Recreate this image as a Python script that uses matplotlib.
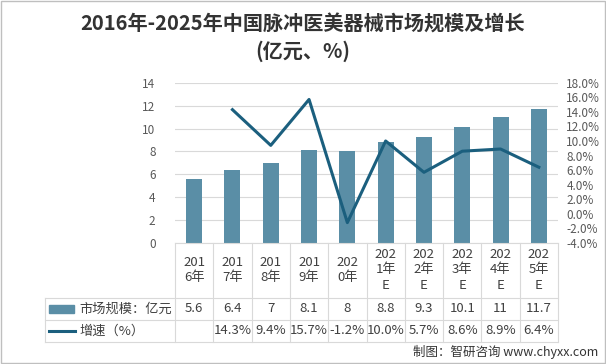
import matplotlib
matplotlib.use("Agg")
import matplotlib.pyplot as plt
from matplotlib.lines import Line2D
from matplotlib.patches import Rectangle
from matplotlib.ticker import FuncFormatter

plt.rcParams['font.family'] = ['Noto Sans CJK SC', 'DejaVu Sans']

years = ['201\n6年', '201\n7年', '201\n8年', '201\n9年', '202\n0年',
         '202\n1年\nE', '202\n2年\nE', '202\n3年\nE', '202\n4年\nE', '202\n5年\nE']
market = [5.6, 6.4, 7, 8.1, 8, 8.8, 9.3, 10.1, 11, 11.7]
market_labels = ['5.6', '6.4', '7', '8.1', '8', '8.8', '9.3', '10.1', '11', '11.7']
growth = [None, 14.3, 9.4, 15.7, -1.2, 10.0, 5.7, 8.6, 8.9, 6.4]

bar_color = '#5a8ea6'
line_color = '#1b5f7e'
grid_color = '#d9d9d9'
text_color = '#404040'

W, H = 606, 364
fig = plt.figure(figsize=(W / 100, H / 100), dpi=100)

def fx(px):
    return px / W

def fy(py):
    return 1 - py / H

ax = fig.add_axes([fx(175), fy(243), fx(558) - fx(175), fy(82.7) - fy(243)])
x = list(range(len(market)))
ax.bar(x, market, width=0.42, color=bar_color, zorder=2)
ax.set_xlim(-0.5, len(market) - 0.5)
ax.set_ylim(0, 14)
ax.set_yticks(range(0, 15, 2))
ax.yaxis.grid(True, color=grid_color, lw=0.8, zorder=0)
ax.set_xticks([])
for s in ax.spines.values():
    s.set_visible(False)
ax.tick_params(axis='y', length=0, labelsize=8.5, labelcolor='#595959', pad=14)

ax2 = ax.twinx()
gx = [i for i, g in enumerate(growth) if g is not None]
gy = [g for g in growth if g is not None]
ax2.plot(gx, gy, color=line_color, lw=2.2, zorder=3)
ax2.set_ylim(-4, 18)
ax2.set_yticks(range(-4, 19, 2))
ax2.yaxis.set_major_formatter(FuncFormatter(lambda v, p: f'{v:.1f}%'))
for s in ax2.spines.values():
    s.set_visible(False)
ax2.tick_params(axis='y', length=0, labelsize=8.5, labelcolor='#595959', pad=6)

# data table below the chart
col_w = (558 - 175) / len(market)
bounds = [175 + i * col_w for i in range(len(market) + 1)]
rows_y = [243, 298, 320, 342]

def hline(x0, x1, y):
    fig.add_artist(Line2D([fx(x0), fx(x1)], [fy(y), fy(y)], color=grid_color, lw=0.8))

def vline(xp, y0, y1):
    fig.add_artist(Line2D([fx(xp), fx(xp)], [fy(y0), fy(y1)], color=grid_color, lw=0.8))

hline(175, 558, 243)
for y in rows_y[1:]:
    hline(45, 558, y)
for b in bounds:
    vline(b, 243, 342)
vline(45, 298, 342)

for i in range(len(market)):
    cx = fx(bounds[i] + col_w / 2)
    fig.text(cx, fy(270), years[i], ha='center', va='center', fontsize=9.5,
             color=text_color, linespacing=1.25)
    fig.text(cx, fy(309), market_labels[i], ha='center', va='center',
             fontsize=9.5, color=text_color)
    if growth[i] is not None:
        fig.text(cx, fy(331), f'{growth[i]:.1f}%', ha='center', va='center',
                 fontsize=9.5, color=text_color)

fig.add_artist(Rectangle((fx(49), fy(313)), fx(74) - fx(49), fy(305) - fy(313),
                         color=bar_color, transform=fig.transFigure))
fig.add_artist(Line2D([fx(49), fx(75)], [fy(330.5), fy(330.5)], color=line_color, lw=2.2))
fig.text(fx(79), fy(309), '市场规模：亿元', ha='left', va='center', fontsize=9.5, color=text_color)
fig.text(fx(79), fy(331), '增速（%）', ha='left', va='center', fontsize=9.5, color=text_color)

fig.text(0.5, fy(24), '2016年-2025年中国脉冲医美器械市场规模及增长', ha='center', va='center',
         fontsize=14.5, fontweight='bold', color='#333333')
fig.text(0.5, fy(51), '(亿元、%)', ha='center', va='center',
         fontsize=14.5, fontweight='bold', color='#333333')

fig.text(fx(598), fy(352), '制图：智研咨询 www.chyxx.com', ha='right', va='center',
         fontsize=9, color='#333333')

fig.add_artist(Rectangle((0.001, 0.002), 0.997, 0.996, fill=False, ec='#bfbfbf', lw=1,
                         transform=fig.transFigure))

fig.savefig('out.png', dpi=100)
